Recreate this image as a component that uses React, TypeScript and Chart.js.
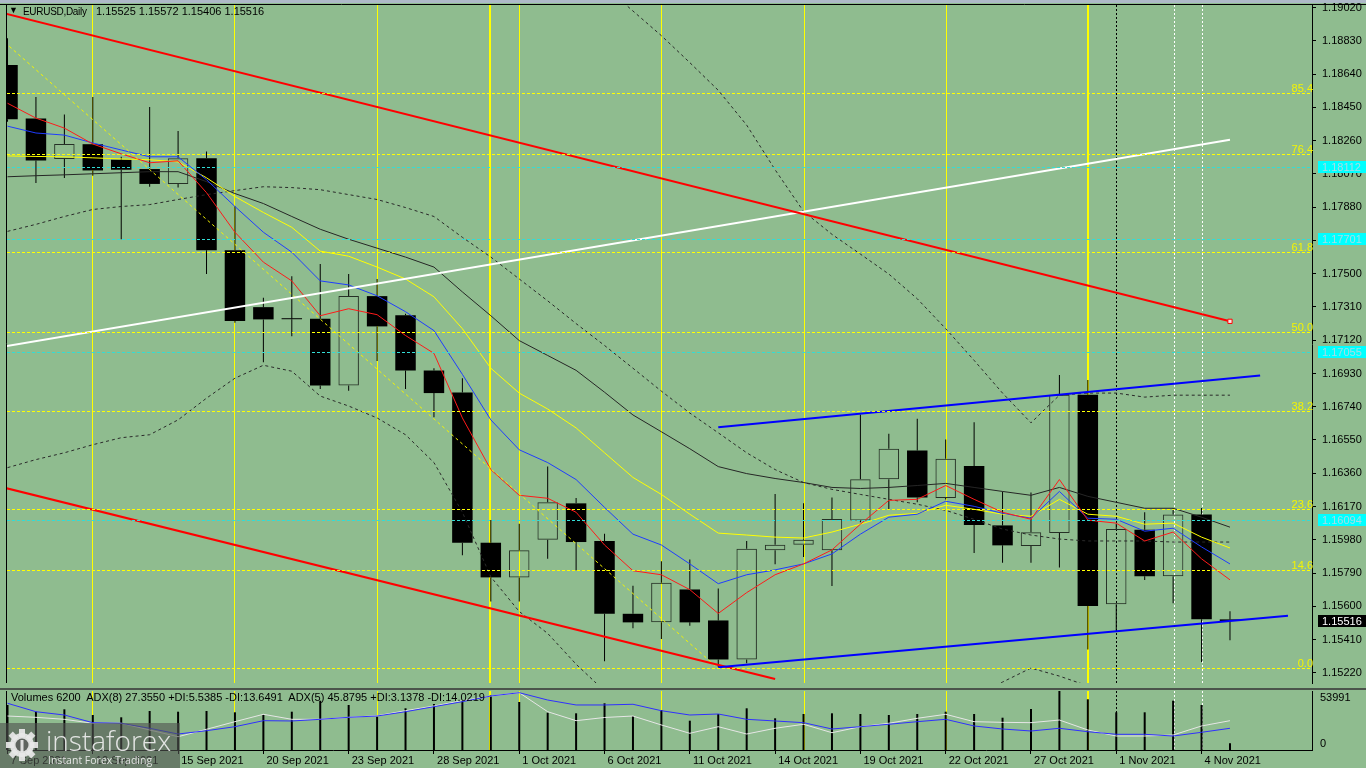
import React, { useEffect, useRef } from "react";
import { Chart, registerables } from "chart.js";

Chart.register(...registerables);

const BG = "#8fbc8f";
const FONT = '"Liberation Sans", Arial, sans-serif';

// ---------- data ----------
const dates = [
  "7 Sep 2021", "8 Sep 2021", "9 Sep 2021", "10 Sep 2021", "13 Sep 2021", "14 Sep 2021", "15 Sep 2021", "16 Sep 2021", "17 Sep 2021",
  "20 Sep 2021", "21 Sep 2021", "22 Sep 2021", "23 Sep 2021", "24 Sep 2021",
  "27 Sep 2021", "28 Sep 2021", "29 Sep 2021", "30 Sep 2021", "1 Oct 2021",
  "4 Oct 2021", "5 Oct 2021", "6 Oct 2021", "7 Oct 2021", "8 Oct 2021",
  "11 Oct 2021", "12 Oct 2021", "13 Oct 2021", "14 Oct 2021", "15 Oct 2021",
  "18 Oct 2021", "19 Oct 2021", "20 Oct 2021", "21 Oct 2021", "22 Oct 2021",
  "25 Oct 2021", "26 Oct 2021", "27 Oct 2021", "28 Oct 2021", "29 Oct 2021",
  "1 Nov 2021", "2 Nov 2021", "3 Nov 2021", "4 Nov 2021", "5 Nov 2021",
];

const openP = [
  1.18693, 1.18387, 1.18155, 1.1824, 1.18151, 1.18098, 1.18013, 1.1816, 1.17634,
  1.17309, 1.17243, 1.17243, 1.16861, 1.17372,
  1.17262, 1.16947, 1.16822, 1.15963, 1.15765,
  1.1598, 1.16188, 1.15973, 1.15557, 1.15508,
  1.15696, 1.15519, 1.15296, 1.1592, 1.15952,
  1.1592, 1.1609, 1.16326, 1.1649, 1.16218,
  1.16402, 1.16062, 1.15944, 1.16018, 1.16808,
  1.15612, 1.16037, 1.15772, 1.16124, 1.15525,
];
const highP = [
  1.18846, 1.1851, 1.1841, 1.1851, 1.18168, 1.18453, 1.18315, 1.18198, 1.17886,
  1.17362, 1.17485, 1.17555, 1.17498, 1.1747,
  1.17271, 1.1696, 1.16903, 1.16093, 1.16071,
  1.16398, 1.16218, 1.16014, 1.15717, 1.15857,
  1.15867, 1.15702, 1.15973, 1.16241, 1.16188,
  1.16222, 1.16695, 1.16585, 1.16672, 1.16553,
  1.16651, 1.16256, 1.1625, 1.16922, 1.16893,
  1.16071, 1.16137, 1.16162, 1.16162, 1.15572,
];
const lowP = [
  1.18368, 1.18018, 1.18047, 1.1806, 1.17697, 1.17997, 1.17992, 1.17498, 1.1722,
  1.16994, 1.17143, 1.16842, 1.16831, 1.17001,
  1.16842, 1.1668, 1.15892, 1.15627, 1.15627,
  1.15872, 1.15806, 1.15286, 1.15475, 1.15413,
  1.15489, 1.1525, 1.15275, 1.1584, 1.15882,
  1.15716, 1.1608, 1.16156, 1.16194, 1.1621,
  1.15905, 1.15848, 1.15848, 1.15821, 1.15353,
  1.15457, 1.1575, 1.15617, 1.15281, 1.15406,
];
const closeP = [
  1.18383, 1.18147, 1.18241, 1.1809, 1.18094, 1.18013, 1.1816, 1.17634, 1.1723,
  1.17239, 1.1724, 1.16861, 1.17372, 1.17199,
  1.16947, 1.16818, 1.15963, 1.15765, 1.1592,
  1.16194, 1.15967, 1.15557, 1.15508, 1.15734,
  1.15508, 1.15296, 1.15929, 1.15952, 1.1598,
  1.16099, 1.16326, 1.165, 1.16222, 1.16443,
  1.16065, 1.15948, 1.16023, 1.16808, 1.15602,
  1.16042, 1.15772, 1.16124, 1.15526, 1.15516,
];

const maRed = [
  1.18474, 1.18389, 1.18332, 1.18241, 1.18185, 1.18134, 1.18145, 1.17963, 1.17737, 1.17566,
  1.17459, 1.1726, 1.173, 1.17266, 1.17147, 1.17045, 1.16676, 1.16381, 1.16234, 1.16217,
  1.16137, 1.1595, 1.15803, 1.1578, 1.15695, 1.15559, 1.15678, 1.1578, 1.15842, 1.15922,
  1.16069, 1.16205, 1.16211, 1.1629, 1.16211, 1.16137, 1.16097, 1.16324, 1.16092, 1.16075,
  1.15973, 1.16024, 1.15871, 1.15751,
];
const maBlue = [
  1.18343, 1.18304, 1.18292, 1.18247, 1.18207, 1.18168, 1.18168, 1.18037, 1.17884, 1.17737,
  1.17623, 1.17459, 1.17436, 1.17374, 1.17283, 1.17175, 1.16925, 1.16665, 1.16494, 1.16421,
  1.16324, 1.16165, 1.16012, 1.1595, 1.15842, 1.15729, 1.1578, 1.15808, 1.15842, 1.15899,
  1.16012, 1.16109, 1.16126, 1.162, 1.16171, 1.16131, 1.16103, 1.16256, 1.16103, 1.16097,
  1.16029, 1.16046, 1.15939, 1.15842,
];
const maYellow = [
  1.18173, 1.1817, 1.18168, 1.18162, 1.18156, 1.18151, 1.18139, 1.18048, 1.17941, 1.1785,
  1.17765, 1.17629, 1.176, 1.17538, 1.1747, 1.17368, 1.17186, 1.1696, 1.16818, 1.16727,
  1.16619, 1.16477, 1.16336, 1.16239, 1.16126, 1.16018, 1.16007, 1.15995, 1.1599, 1.16024,
  1.16069, 1.1612, 1.16131, 1.16177, 1.16154, 1.16126, 1.16114, 1.16211, 1.16126, 1.16114,
  1.16069, 1.16075, 1.15995, 1.15933,
];
const maSlow = [
  1.18054, 1.1806, 1.18065, 1.18071, 1.18077, 1.18083, 1.18083, 1.18026, 1.17958, 1.17901,
  1.17827, 1.17754, 1.17697, 1.17646, 1.17595, 1.17538, 1.17396, 1.1726, 1.17118, 1.17033,
  1.16948, 1.16823, 1.16693, 1.16597, 1.165, 1.16398, 1.16358, 1.1633, 1.16307, 1.16279,
  1.16273, 1.16279, 1.1629, 1.16302, 1.16279, 1.16256, 1.16234, 1.16279, 1.16228, 1.16194,
  1.1616, 1.1616, 1.16109, 1.16052,
];
const maDashed = [
  1.17742, 1.17782, 1.17827, 1.17867, 1.17884, 1.17895, 1.17924, 1.17952, 1.17975, 1.17997,
  1.17992, 1.1798, 1.17952, 1.17924, 1.17878, 1.17827, 1.17708, 1.17595, 1.1747, 1.17345,
  1.17215, 1.1709, 1.1696, 1.16829, 1.16704, 1.16591, 1.16477, 1.16381, 1.16307, 1.16268,
  1.16239, 1.16211, 1.16183, 1.16148, 1.16097, 1.16041, 1.16007, 1.15984, 1.15973, 1.15973,
  1.15973, 1.15967, 1.15967, 1.15967,
];
const bandUpper = [
  null, null, null, null, null, null, null, null, null, null,
  null, null, null, null, null, null, null, null, null, null,
  1.19313, 1.19143, 1.19001, 1.1886, 1.18706, 1.18548, 1.18349, 1.18094, 1.17856, 1.17725,
  1.17612, 1.17498, 1.17357, 1.17186, 1.17005, 1.16818, 1.16648, 1.16806, 1.16818, 1.16818,
  1.16795, 1.16806, 1.16806, 1.16806,
];
const bandLower = [
  1.16392, 1.16438, 1.16477, 1.16523, 1.16563, 1.1658, 1.16665, 1.16789, 1.16903, 1.16977,
  1.16943, 1.16801, 1.16744, 1.16676, 1.1658, 1.16421, 1.16137, 1.15768, 1.1557, 1.15445,
  1.15269, 1.15116, 1.14974, 1.149, 1.1486, 1.1485, 1.1487, 1.149, 1.1495, 1.15,
  1.1503, 1.1506, 1.1509, 1.1511, 1.15088, 1.15167, 1.15247, 1.15201, 1.15145, 1.15088,
  1.1505, 1.1504, 1.15, 1.1497,
];

const volumes = [
  41180, 35048, 37245, 32028, 29923, 35689, 35048, 35689, 34500, 32028,
  35048, 45114, 41180, 30473, 38160, 42095, 45114, 50331, 43925, 34133,
  33584, 42735, 31113, 36604, 26813, 32944, 38160, 29009, 32944, 33584,
  32944, 32028, 32944, 35048, 32944, 29558, 37519, 53991, 46396, 34500,
  34500, 45114, 41180, 6200,
];
const adxBlue = [
  79.2, 64.9, 59.3, 46.3, 45.3, 36.8, 27.1, 32.7, 39.5, 49.7,
  49.2, 52.0, 55.4, 57.6, 64.9, 73.4, 81.9, 91.5, 97.1, 84.7,
  76.3, 76.3, 77.5, 66.6, 59.3, 61.0, 52.0, 49.2, 46.3, 35.6,
  39.5, 43.6, 48.0, 52.0, 40.7, 35.6, 32.2, 36.8, 31.0, 26.6,
  26.6, 23.7, 30.0, 36.8,
];
const adxWhite = [
  57.6, 55.4, 52.0, 45.3, 45.3, 33.9, 22.5, 35.1, 48.0, 60.5,
  52.0, 52.0, 55.4, 58.1, 66.6, 74.6, 83.6, 91.5, 97.1, 64.9,
  49.7, 55.1, 57.6, 42.4, 28.3, 39.5, 27.1, 36.8, 43.6, 29.3,
  39.5, 45.3, 53.7, 60.5, 48.0, 46.9, 46.3, 50.8, 33.9, 23.7,
  23.7, 25.4, 40.7, 49.7,
];

const priceTicks = [
  1.1902, 1.1883, 1.1864, 1.1845, 1.1826, 1.1807, 1.1788, 1.1769, 1.175, 1.1731, 1.1712,
  1.1693, 1.1674, 1.1655, 1.1636, 1.1617, 1.1598, 1.1579, 1.156, 1.1541, 1.1522,
];
const fibLabels = ["0.0", "14.6", "23.6", "38.2", "50.0", "61.8", "76.4", "85.4"];
const fibValues = [1.15245, 1.15807, 1.16153, 1.16715, 1.17169, 1.17623, 1.18185, 1.18531];
const markedLevels = [1.18112, 1.17701, 1.17055, 1.16094];
const lastPrice = 1.15516;
const dateTickIdx = [0, 3, 6, 9, 12, 15, 18, 21, 24, 27, 30, 33, 36, 39, 42];

// trend lines (bar index, price)
const redUpper = [{ x: -1, y: 1.19024 }, { x: 43, y: 1.17228 }];
const redLower = [{ x: -1, y: 1.16313 }, { x: 27, y: 1.15184 }];
const whiteLine = [{ x: -1, y: 1.1706 }, { x: 43, y: 1.18266 }];
const blueUpper = [{ x: 25, y: 1.16623 }, { x: 44.06, y: 1.16918 }];
const blueLower = [{ x: 25, y: 1.15252 }, { x: 45.04, y: 1.15546 }];
const fibBase = [{ x: -2, y: 1.19093 }, { x: 25, y: 1.15245 }];

// vertical marker lines (bar indexes)
const vYellowBright = [3, 8, 28, 33];
const vYellowPale = [13, 18, 23];
const vYellowThick = [17, 38];
const vBlackDot = [39];
const vWhiteDot = [41, 42];

const titleText = "EURUSD,Daily";
const titleOHLC = "1.15525 1.15572 1.15406 1.15516";
const volHeader = "Volumes 6200  ADX(8) 27.3550 +DI:5.5385 -DI:13.6491  ADX(5) 45.8795 +DI:3.1378 -DI:14.0219";
const volMaxLabel = "53991";

// ---------- ranges ----------
const X_MIN = -0.018;
const X_MAX = 45.885;
const P_MIN = 1.151616;
const P_MAX = 1.190353;

const pts = (arr: (number | null)[]) => arr.map((v, i) => ({ x: i, y: v }));

function lineDs(data: any[], color: string, width: number, order: number, dash: number[] = [], extra: any = {}) {
  return {
    type: "line",
    data,
    borderColor: color,
    borderWidth: width,
    borderDash: dash,
    pointRadius: 0,
    tension: 0,
    fill: false,
    clip: 0,
    order,
    ...extra,
  };
}

// crisp vertical guide lines (bar index -> pixel via the x scale)
function drawVerticals(chart: any) {
  const { ctx, chartArea, scales } = chart;
  const xs = scales.x;
  ctx.save();
  ctx.beginPath();
  ctx.rect(chartArea.left, chartArea.top, chartArea.right - chartArea.left, chartArea.bottom - chartArea.top);
  ctx.clip();
  const v = (i: number, color: string, w: number, dash: number[], parity: number) => {
    const px = xs.getPixelForValue(i);
    let col = Math.round(px);
    if (parity >= 0 && Math.abs(col % 2) !== parity) col = px > col ? col + 1 : col - 1;
    const x = col + (w % 2 ? 0.5 : 0);
    ctx.strokeStyle = color;
    ctx.lineWidth = w;
    ctx.setLineDash(dash);
    ctx.beginPath();
    ctx.moveTo(x, chartArea.top);
    ctx.lineTo(x, chartArea.bottom);
    ctx.stroke();
  };
  vYellowBright.forEach((i) => v(i, "#ffff00", 1, [], 0));
  vYellowPale.forEach((i) => v(i, "#ffff00", 1, [], 1));
  vYellowThick.forEach((i) => v(i, "#ffff00", 2, [], 0));
  vBlackDot.forEach((i) => v(i, "#000000", 1, [2, 2], -1));
  vWhiteDot.forEach((i) => v(i, "#ffffff", 1, [2, 2], 0));
  ctx.restore();
}

const mainDecor = {
  id: "mainDecor",
  beforeDatasetsDraw(chart: any) {
    drawVerticals(chart);
  },
  afterDatasetsDraw(chart: any) {
    const { ctx, chartArea, scales } = chart;
    const y = scales.y;
    ctx.save();
    ctx.beginPath();
    ctx.rect(chartArea.left, chartArea.top, chartArea.right - chartArea.left, chartArea.bottom - chartArea.top);
    ctx.clip();
    const h = (v: number, color: string) => {
      const py = Math.round(y.getPixelForValue(v)) + 0.5;
      ctx.strokeStyle = color;
      ctx.lineWidth = 1;
      ctx.setLineDash([3, 2]);
      ctx.beginPath();
      ctx.moveTo(chartArea.left, py);
      ctx.lineTo(chartArea.right, py);
      ctx.stroke();
    };
    fibValues.forEach((v) => h(v, "#ffff00"));
    markedLevels.forEach((v) => h(v, "#33dcd6"));
    ctx.restore();
  },
  afterDraw(chart: any) {
    const { ctx, chartArea, scales } = chart;
    const y = scales.y;
    ctx.save();
    // frame
    ctx.strokeStyle = "#000";
    ctx.lineWidth = 1;
    ctx.setLineDash([]);
    ctx.beginPath();
    ctx.moveTo(0, chartArea.top - 0.5);
    ctx.lineTo(chart.width, chartArea.top - 0.5);
    ctx.moveTo(chartArea.left - 0.5, chartArea.top - 0.5);
    ctx.lineTo(chartArea.left - 0.5, chartArea.bottom);
    ctx.stroke();
    // fib labels
    ctx.font = `11px ${FONT}`;
    ctx.fillStyle = "#f4f400";
    ctx.textAlign = "right";
    ctx.textBaseline = "alphabetic";
    fibLabels.forEach((lab, k) => {
      const py = Math.round(y.getPixelForValue(fibValues[k]));
      ctx.fillText(lab, chartArea.right + 1, py - 1);
    });
    // price boxes
    ctx.textAlign = "left";
    ctx.textBaseline = "middle";
    const box = (v: number, bg: string, fg: string) => {
      const py = Math.round(y.getPixelForValue(v));
      ctx.fillStyle = bg;
      ctx.fillRect(chartArea.right + 6, py - 6, chart.width - chartArea.right - 6, 12);
      ctx.fillStyle = fg;
      ctx.fillText(v.toFixed(5), chartArea.right + 10, py + 0.5);
    };
    markedLevels.forEach((v) => box(v, "#00ffff", "#a8dce4"));
    box(lastPrice, "#000000", "#ffffff");
    ctx.restore();
  },
};

const volDecor = {
  id: "volDecor",
  beforeDatasetsDraw(chart: any) {
    drawVerticals(chart);
  },
  afterDraw(chart: any) {
    const { ctx, chartArea } = chart;
    ctx.save();
    ctx.fillStyle = "#4b544b";
    ctx.fillRect(0, 0, chart.width, 2);
    ctx.strokeStyle = "#000";
    ctx.lineWidth = 1;
    ctx.beginPath();
    ctx.moveTo(chartArea.left - 0.5, chartArea.top);
    ctx.lineTo(chartArea.left - 0.5, chartArea.bottom);
    ctx.stroke();
    ctx.font = `11px ${FONT}`;
    ctx.fillStyle = "#000";
    ctx.textAlign = "left";
    ctx.textBaseline = "top";
    ctx.fillText(volMaxLabel, chartArea.right + 8, chartArea.top + 1);
    ctx.textBaseline = "bottom";
    ctx.fillText("0", chartArea.right + 8, chartArea.bottom - 1);
    ctx.restore();
  },
};

export default function App() {
  const mainRef = useRef<HTMLCanvasElement | null>(null);
  const volRef = useRef<HTMLCanvasElement | null>(null);

  useEffect(() => {
    document.body.style.margin = "0";
    Chart.defaults.font.family = FONT;
    Chart.defaults.font.size = 11;
    Chart.defaults.color = "#000";

    const idx = dates.map((_, i) => i);
    const bull = idx.filter((i) => closeP[i] > openP[i]);
    const bear = idx.filter((i) => closeP[i] <= openP[i]);

    const barBase = {
      type: "bar",
      grouped: false,
      clip: 0,
      borderSkipped: false,
    };

    const mainDatasets: any[] = [
      {
        ...barBase,
        data: idx.map((i) => ({ x: i, y: [Math.max(openP[i], closeP[i]), highP[i]] })),
        backgroundColor: "#000",
        maxBarThickness: 1,
        order: 60,
      },
      {
        ...barBase,
        data: idx.map((i) => ({ x: i, y: [lowP[i], Math.min(openP[i], closeP[i])] })),
        backgroundColor: "#000",
        maxBarThickness: 1,
        order: 60,
      },
      {
        ...barBase,
        data: bear.map((i) => ({ x: i, y: [openP[i], closeP[i]] })),
        backgroundColor: "#000",
        borderWidth: 0,
        maxBarThickness: 21,
        minBarLength: 1,
        order: 50,
      },
      {
        ...barBase,
        data: bull.map((i) => ({ x: i, y: [openP[i], closeP[i]] })),
        backgroundColor: "rgba(0,0,0,0)",
        borderColor: "#263026",
        borderWidth: 1,
        maxBarThickness: 21,
        minBarLength: 1,
        order: 50,
      },
      lineDs(pts(bandUpper), "#2a2a2a", 1, 30, [3, 3]),
      lineDs(pts(bandLower), "#2a2a2a", 1, 30, [3, 3]),
      lineDs(pts(maDashed), "#2a2a2a", 1, 30, [3, 3]),
      lineDs(pts(maSlow), "#262626", 1, 24),
      lineDs(pts(maYellow), "#ffff00", 1, 23),
      lineDs(pts(maBlue), "#1f3cff", 1, 22),
      lineDs(pts(maRed), "#ff1a1a", 1, 21),
      lineDs(fibBase, "#f4f400", 1, 12, [3, 3]),
      lineDs(whiteLine, "#ffffff", 2, 6),
      lineDs(redLower, "#ff0000", 2, 5),
      lineDs(redUpper, "#ff0000", 2, 5, [], {
        pointRadius: [0, 3],
        pointStyle: "rect",
        pointBackgroundColor: "#f6e6e6",
        pointBorderColor: "#ff0000",
        pointBorderWidth: 1,
      }),
      lineDs(blueUpper, "#0000ff", 2, 4),
      lineDs(blueLower, "#0000ff", 2, 4),
    ];

    const mainChart = new Chart(mainRef.current as HTMLCanvasElement, {
      type: "bar",
      data: { datasets: mainDatasets },
      options: {
        animation: false,
        responsive: false,
        events: [],
        layout: { padding: { left: 7, top: 4, right: 0, bottom: 1 } },
        plugins: { legend: { display: false }, tooltip: { enabled: false } },
        scales: {
          x: {
            type: "linear",
            min: X_MIN,
            max: X_MAX,
            bounds: "data",
            offset: false,
            display: false,
            grid: { offset: false },
          },
          y: {
            type: "linear",
            position: "right",
            min: P_MIN,
            max: P_MAX,
            bounds: "data",
            afterBuildTicks: (s: any) => {
              s.ticks = priceTicks.map((v) => ({ value: v }));
            },
            afterFit: (s: any) => {
              s.width = 54;
              s.paddingTop = 0;
              s.paddingBottom = 0;
            },
            ticks: {
              padding: 6,
              color: "#000",
              autoSkip: false,
              font: { size: 11, family: FONT },
              callback: (v: any) => Number(v).toFixed(5),
            },
            grid: { drawOnChartArea: false, drawTicks: true, tickLength: 4, color: "#000" },
            border: { display: true, color: "#000", width: 1 },
          },
        },
      } as any,
      plugins: [mainDecor],
    } as any);

    const volDatasets: any[] = [
      {
        type: "bar",
        grouped: false,
        clip: 0,
        data: pts(volumes),
        backgroundColor: "#000",
        maxBarThickness: 2,
        order: 50,
      },
      lineDs(pts(adxWhite), "#e6e6e6", 1, 10, [], { yAxisID: "yAdx" }),
      lineDs(pts(adxBlue), "#2f2fff", 1, 9, [], { yAxisID: "yAdx" }),
    ];

    const volChart = new Chart(volRef.current as HTMLCanvasElement, {
      type: "bar",
      data: { datasets: volDatasets },
      options: {
        animation: false,
        responsive: false,
        events: [],
        layout: { padding: { left: 7, top: 3, right: 0, bottom: 0 } },
        plugins: { legend: { display: false }, tooltip: { enabled: false } },
        scales: {
          x: {
            type: "linear",
            position: "bottom",
            min: X_MIN,
            max: X_MAX,
            bounds: "data",
            offset: false,
            afterBuildTicks: (s: any) => {
              s.ticks = dateTickIdx.map((v) => ({ value: v }));
            },
            afterFit: (s: any) => {
              s.height = 18;
              s.paddingLeft = 0;
              s.paddingRight = 0;
            },
            ticks: {
              autoSkip: false,
              maxRotation: 0,
              minRotation: 0,
              align: "start",
              padding: 0,
              color: "#000",
              font: { size: 11, family: FONT },
              callback: (v: any) => " " + dates[Math.round(Number(v))],
            },
            grid: { offset: false, drawOnChartArea: false, drawTicks: true, tickLength: 4, color: "#000" },
            border: { display: true, color: "#000", width: 1 },
          },
          y: {
            type: "linear",
            position: "right",
            min: 0,
            max: 53991,
            bounds: "data",
            afterFit: (s: any) => {
              s.width = 54;
              s.paddingTop = 0;
              s.paddingBottom = 0;
            },
            ticks: { display: false },
            grid: { display: false },
            border: { display: true, color: "#000", width: 1 },
          },
          yAdx: { type: "linear", display: false, min: 0, max: 100 },
        },
      } as any,
      plugins: [volDecor],
    } as any);

    return () => {
      mainChart.destroy();
      volChart.destroy();
    };
  }, []);

  const txt: React.CSSProperties = {
    position: "absolute",
    font: `11px ${FONT}`,
    color: "#000",
    whiteSpace: "pre",
    lineHeight: "13px",
  };

  return (
    <div
      style={{
        position: "fixed",
        left: 0,
        top: 0,
        width: 1366,
        height: 768,
        background: BG,
        overflow: "hidden",
      }}
    >
      <div style={{ position: "absolute", left: 0, top: 0, width: 1366, height: 3, background: "#aeb9c8" }} />
      <canvas ref={mainRef} width={1366} height={688} style={{ position: "absolute", left: 0, top: 0, display: "block" }} />
      <canvas ref={volRef} width={1366} height={80} style={{ position: "absolute", left: 0, top: 688, display: "block" }} />
      <div style={{ ...txt, left: 9, top: 4, fontSize: 9 }}>▼</div>
      <div style={{ ...txt, left: 23, top: 5, fontSize: 10, letterSpacing: "-0.3px" }}>{titleText}</div>
      <div style={{ ...txt, left: 96, top: 5 }}>{titleOHLC}</div>
      <div style={{ ...txt, left: 11, top: 691 }}>{volHeader}</div>
      <div
        style={{
          position: "absolute",
          left: 0,
          top: 723,
          width: 180,
          height: 45,
          background: "rgba(80,84,80,0.62)",
        }}
      >
        <svg width="34" height="34" viewBox="0 0 34 34" style={{ position: "absolute", left: 5, top: 5 }}>
          <g fill="rgba(232,232,232,0.92)">
            {[0, 45, 90, 135, 180, 225, 270, 315].map((a) => (
              <rect key={a} x="14" y="1" width="6" height="8" transform={`rotate(${a} 17 17)`} />
            ))}
            <circle cx="17" cy="17" r="12" />
          </g>
          <circle cx="17" cy="17" r="6.5" fill="rgba(95,100,95,1)" />
          <rect x="15.5" y="12" width="3" height="12" fill="rgba(232,232,232,0.92)" />
        </svg>
        <div
          style={{
            position: "absolute",
            left: 46,
            top: 0,
            font: `300 28px "Open Sans", ${FONT}`,
            color: "rgba(238,238,238,0.92)",
            whiteSpace: "pre",
            lineHeight: "34px",
          }}
        >
          instaforex
        </div>
        <div
          style={{
            position: "absolute",
            left: 48,
            top: 31,
            font: `10.5px "Open Sans", ${FONT}`,
            color: "rgba(238,238,238,0.92)",
            whiteSpace: "pre",
            lineHeight: "13px",
          }}
        >
          Instant Forex Trading
        </div>
      </div>
    </div>
  );
}
